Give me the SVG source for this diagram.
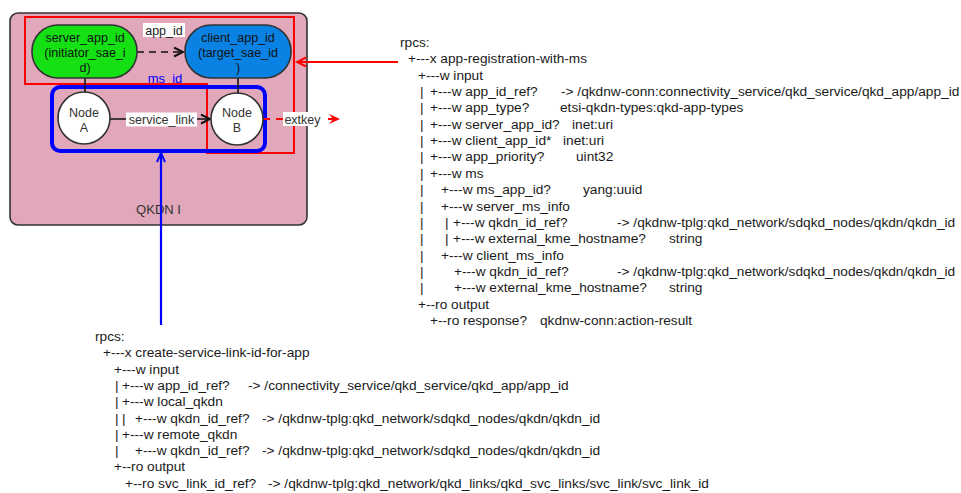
<svg xmlns="http://www.w3.org/2000/svg" width="961" height="493" viewBox="0 0 961 493">
  <style>
    .tree { font-family: "Liberation Sans", Arial, sans-serif; font-size: 13.7px; fill: #1a1a1a; }
    .lbl { font-family: "Liberation Sans", Arial, sans-serif; font-size: 12.5px; fill: #111; text-anchor: middle; }
    .edge { fill: none; stroke: #111; stroke-width: 1.6; }
    .node { stroke: #333; stroke-width: 1.6; }
    .bg { fill: #fff; stroke: none; }
  </style>
  <defs>
    <marker id="chevK" markerUnits="userSpaceOnUse" markerWidth="12" markerHeight="12" refX="10" refY="5" orient="auto">
      <path d="M1,0.5 L10,5 L1,9.5" fill="none" stroke="#111" stroke-width="2" stroke-dasharray="none"/>
    </marker>
    <marker id="chevR" markerUnits="userSpaceOnUse" markerWidth="12" markerHeight="12" refX="10" refY="5" orient="auto">
      <path d="M1,0.5 L10,5 L1,9.5" fill="none" stroke="#ff0000" stroke-width="2"/>
    </marker>
    <marker id="chevB" markerUnits="userSpaceOnUse" markerWidth="12" markerHeight="12" refX="10" refY="5" orient="auto">
      <path d="M1,1 L10,5 L1,9" fill="none" stroke="#0000ff" stroke-width="2"/>
    </marker>
    <marker id="notchR" markerUnits="userSpaceOnUse" markerWidth="14" markerHeight="12" refX="11" refY="5" orient="auto">
      <path d="M0,0 L11,5 L0,10 L4,5 Z" fill="#ff0000" stroke="none"/>
    </marker>
  </defs>

  <!-- QKDN container -->
  <g id="qkdn">
    <rect x="10" y="13" width="297" height="212" rx="8" fill="#e1a7bb" stroke="#333" stroke-width="1.6"/>
    <text class="lbl" x="158.5" y="214" style="font-size:13px;fill:#333">QKDN I</text>
  </g>

  <!-- application / service-link scope outlines -->
  <g id="scope-app">
    <polygon points="25,17 294,17 294,153 207,153 207,84 25,84" fill="none" stroke="#ff0000" stroke-width="2"/>
  </g>
  <g id="scope-ms">
    <rect x="52" y="87" width="213" height="64" rx="8" fill="none" stroke="#0000ff" stroke-width="4"/>
    <text x="165" y="83" text-anchor="middle" style="font-family:'Liberation Sans',Arial,sans-serif;font-size:13px;fill:#0000ff">ms_id</text>
  </g>

  <!-- connectors -->
  <g id="connectors">
    <line class="edge" x1="85" y1="78" x2="85" y2="92"/>
    <line class="edge" x1="238" y1="78" x2="238" y2="93"/>
    <line class="edge" x1="137" y1="52" x2="183" y2="52" stroke-width="2" stroke-dasharray="7,5" marker-end="url(#chevK)"/>
    <line class="edge" x1="110" y1="119" x2="210" y2="119" marker-end="url(#chevK)"/>
    <line x1="263" y1="119" x2="340" y2="119" stroke="#ff0000" stroke-width="2" stroke-dasharray="7,6" marker-end="url(#notchR)"/>
    <line x1="398" y1="62" x2="297" y2="62" stroke="#ff0000" stroke-width="2" marker-end="url(#chevR)"/>
    <line x1="161" y1="325" x2="161" y2="153" stroke="#0000ff" stroke-width="2.2" marker-end="url(#chevB)"/>
    <!-- connector labels -->
    <rect class="bg" x="143" y="23" width="42" height="14"/>
    <text class="lbl" x="164" y="34.5" style="fill:#222">app_id</text>
    <rect class="bg" x="126" y="112.5" width="71" height="14"/>
    <text class="lbl" x="161.5" y="124" style="fill:#333">service_link</text>
    <rect class="bg" x="283" y="112" width="39" height="14"/>
    <text class="lbl" x="302.5" y="123.5" style="fill:#333">extkey</text>
  </g>

  <!-- application endpoints -->
  <g id="server-app">
    <rect class="node" x="32" y="25" width="105" height="53" rx="26" fill="#14e014"/>
    <text class="lbl" x="85" y="41.5">server_app_id</text>
    <text class="lbl" x="85" y="56.5">(initiator_sae_i</text>
    <text class="lbl" x="85" y="71.5">d)</text>
  </g>
  <g id="client-app">
    <rect class="node" x="185" y="25" width="106" height="53" rx="26" fill="#0a82e4"/>
    <text class="lbl" x="238" y="41.5">client_app_id</text>
    <text class="lbl" x="238" y="56.5">(target_sae_id</text>
    <text class="lbl" x="238" y="71.5">)</text>
  </g>

  <!-- KME nodes -->
  <g id="node-a">
    <circle class="node" cx="84" cy="118" r="26" fill="#fff"/>
    <text class="lbl" x="84" y="116.5" style="fill:#333">Node</text>
    <text class="lbl" x="84" y="131.5" style="fill:#333">A</text>
  </g>
  <g id="node-b">
    <circle class="node" cx="237" cy="119" r="26" fill="#fff"/>
    <text class="lbl" x="237" y="116.5" style="fill:#333">Node</text>
    <text class="lbl" x="237" y="131.5" style="fill:#333">B</text>
  </g>

  <!-- YANG tree: app-registration-with-ms -->
  <g id="tree-app-registration" class="tree">
    <text x="400" y="47">rpcs:</text>
    <text x="408" y="63.35">+---x app-registration-with-ms</text>
    <text x="418" y="79.7">+---w input</text>
    <text y="96.05"><tspan x="420">|</tspan><tspan x="430">+---w app_id_ref?</tspan><tspan x="561">-&gt; /qkdnw-conn:connectivity_service/qkd_service/qkd_app/app_id</tspan></text>
    <text y="112.4"><tspan x="420">|</tspan><tspan x="430">+---w app_type?</tspan><tspan x="560">etsi-qkdn-types:qkd-app-types</tspan></text>
    <text y="128.75"><tspan x="420">|</tspan><tspan x="430">+---w server_app_id?</tspan><tspan x="572">inet:uri</tspan></text>
    <text y="145.1"><tspan x="420">|</tspan><tspan x="430">+---w client_app_id*</tspan><tspan x="563">inet:uri</tspan></text>
    <text y="161.45"><tspan x="420">|</tspan><tspan x="430">+---w app_priority?</tspan><tspan x="576">uint32</tspan></text>
    <text y="177.8"><tspan x="420">|</tspan><tspan x="430">+---w ms</tspan></text>
    <text y="194.15"><tspan x="420">|</tspan><tspan x="441">+---w ms_app_id?</tspan><tspan x="583">yang:uuid</tspan></text>
    <text y="210.5"><tspan x="420">|</tspan><tspan x="441">+---w server_ms_info</tspan></text>
    <text y="226.85"><tspan x="420">|</tspan><tspan x="445">|</tspan><tspan x="453">+---w qkdn_id_ref?</tspan><tspan x="617">-&gt; /qkdnw-tplg:qkd_network/sdqkd_nodes/qkdn/qkdn_id</tspan></text>
    <text y="243.2"><tspan x="420">|</tspan><tspan x="445">|</tspan><tspan x="453">+---w external_kme_hostname?</tspan><tspan x="669">string</tspan></text>
    <text y="259.55"><tspan x="420">|</tspan><tspan x="441">+---w client_ms_info</tspan></text>
    <text y="275.9"><tspan x="420">|</tspan><tspan x="454">+---w qkdn_id_ref?</tspan><tspan x="617">-&gt; /qkdnw-tplg:qkd_network/sdqkd_nodes/qkdn/qkdn_id</tspan></text>
    <text y="292.25"><tspan x="420">|</tspan><tspan x="454">+---w external_kme_hostname?</tspan><tspan x="669">string</tspan></text>
    <text x="418" y="308.6">+--ro output</text>
    <text y="324.95"><tspan x="430">+--ro response?</tspan><tspan x="540">qkdnw-conn:action-result</tspan></text>
  </g>

  <!-- YANG tree: create-service-link-id-for-app -->
  <g id="tree-create-service-link" class="tree">
    <text x="95" y="341">rpcs:</text>
    <text x="103" y="357.3">+---x create-service-link-id-for-app</text>
    <text x="114" y="373.6">+---w input</text>
    <text y="389.9"><tspan x="115">|</tspan><tspan x="122">+---w app_id_ref?</tspan><tspan x="248">-&gt; /connectivity_service/qkd_service/qkd_app/app_id</tspan></text>
    <text y="406.2"><tspan x="115">|</tspan><tspan x="122">+---w local_qkdn</tspan></text>
    <text y="422.5"><tspan x="115">|</tspan><tspan x="122">|</tspan><tspan x="135">+---w qkdn_id_ref?</tspan><tspan x="262">-&gt; /qkdnw-tplg:qkd_network/sdqkd_nodes/qkdn/qkdn_id</tspan></text>
    <text y="438.8"><tspan x="115">|</tspan><tspan x="122">+---w remote_qkdn</tspan></text>
    <text y="455.1"><tspan x="115">|</tspan><tspan x="135">+---w qkdn_id_ref?</tspan><tspan x="262">-&gt; /qkdnw-tplg:qkd_network/sdqkd_nodes/qkdn/qkdn_id</tspan></text>
    <text x="114" y="471.4">+--ro output</text>
    <text y="487.7"><tspan x="125">+--ro svc_link_id_ref?</tspan><tspan x="268">-&gt; /qkdnw-tplg:qkd_network/qkd_links/qkd_svc_links/svc_link/svc_link_id</tspan></text>
  </g>
</svg>
